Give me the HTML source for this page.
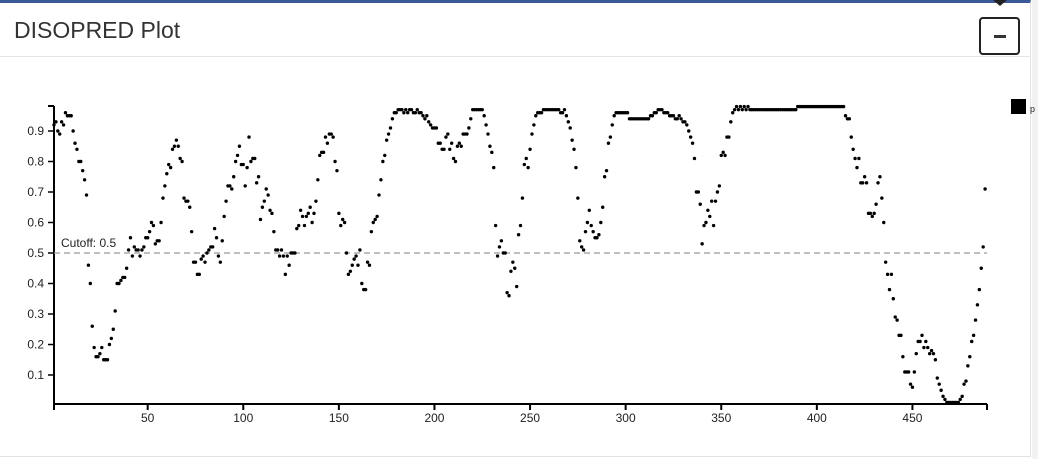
<!DOCTYPE html>
<html><head><meta charset="utf-8">
<style>
html,body{margin:0;padding:0;background:#fff;width:1038px;height:459px;overflow:hidden;font-family:"Liberation Sans",sans-serif;}
.card{position:absolute;left:0;top:0;width:1031px;height:457px;border-top:3px solid #3b5998;border-right:1px solid #e3e3e3;border-bottom:1px solid #e3e3e3;box-sizing:border-box;}
.hdr{position:absolute;left:0;top:0;width:1031px;height:54px;border-bottom:1px solid #e6e6e6;box-sizing:border-box;}
.title{position:absolute;left:14px;top:14px;font-size:23px;color:#333;}
.btn{position:absolute;left:979px;top:14px;width:41px;height:38px;border:2px solid #222;border-radius:4px;box-sizing:border-box;background:#fff;}
.btn span{position:absolute;left:13px;top:16px;width:12px;height:3px;background:#333;}
.tip{position:absolute;left:993px;top:0;width:0;height:0;border-left:7px solid transparent;border-right:7px solid transparent;border-top:6px solid #222;}
.strip{position:absolute;left:1032px;top:0;width:6px;height:459px;background:#f2f2f2;}
svg{position:absolute;left:0;top:0;}
</style></head><body>
<div class="card">
 <div class="hdr">
  <div class="title">DISOPRED Plot</div>
  <div class="btn"><span></span></div>
 </div>
</div>
<div class="tip"></div>
<div class="strip"></div>
<svg id="chart" width="1038" height="459"></svg>
<script>
const xTicks=[50,100,150,200,250,300,350,400,450];
const yTicks=[0.1,0.2,0.3,0.4,0.5,0.6,0.7,0.8,0.9];
const cutoff=0.5;
const disorder=[
.92,.93,.90,.89,.93,.92,.96,.95,.95,.95,
.90,.86,.84,.80,.80,.77,.74,.69,.46,.40,
.26,.19,.16,.16,.17,.19,.15,.15,.15,.20,
.22,.25,.31,.40,.40,.41,.42,.42,.45,.51,
.55,.49,.52,.51,.51,.49,.51,.52,.55,.55,
.57,.60,.59,.53,.54,.54,.60,.68,.72,.76,
.79,.78,.84,.85,.87,.85,.81,.80,.68,.67,
.67,.65,.57,.47,.47,.43,.43,.48,.49,.47,
.50,.51,.52,.52,.58,.55,.49,.47,.54,.62,
.67,.72,.72,.71,.75,.80,.82,.85,.79,.79,
.72,.78,.88,.80,.81,.81,.73,.75,.61,.65,
.67,.71,.69,.64,.63,.57,.51,.51,.49,.51,
.49,.43,.49,.46,.50,.50,.50,.58,.59,.64,
.62,.59,.62,.63,.65,.60,.63,.67,.74,.82,
.83,.83,.88,.86,.89,.89,.88,.80,.77,.63,
.59,.61,.60,.50,.43,.44,.46,.48,.49,.46,
.51,.40,.38,.38,.47,.46,.57,.60,.61,.62,
.69,.74,.80,.82,.87,.89,.91,.94,.96,.96,
.97,.97,.97,.96,.97,.96,.97,.97,.96,.96,
.97,.96,.96,.95,.94,.95,.93,.92,.91,.91,
.91,.86,.86,.84,.84,.88,.89,.84,.86,.81,
.80,.85,.86,.85,.89,.89,.89,.91,.94,.97,
.97,.97,.97,.97,.97,.95,.92,.89,.85,.83,
.78,.59,.49,.52,.54,.50,.50,.37,.36,.44,
.47,.45,.39,.56,.59,.68,.79,.81,.78,.84,
.89,.92,.95,.96,.96,.96,.97,.97,.97,.97,
.97,.97,.97,.97,.97,.96,.96,.97,.95,.93,
.91,.87,.84,.78,.68,.54,.52,.51,.57,.60,
.64,.59,.57,.55,.55,.56,.60,.65,.75,.77,
.86,.88,.92,.95,.96,.96,.96,.96,.96,.96,
.96,.94,.94,.94,.94,.94,.94,.94,.94,.94,
.94,.94,.95,.95,.96,.96,.97,.97,.97,.96,
.96,.96,.95,.95,.95,.94,.94,.95,.94,.93,
.93,.92,.90,.88,.86,.81,.70,.70,.66,.53,
.59,.60,.64,.62,.67,.59,.67,.70,.72,.82,
.83,.82,.88,.88,.93,.96,.97,.98,.97,.98,
.97,.98,.97,.98,.97,.97,.97,.97,.97,.97,
.97,.97,.97,.97,.97,.97,.97,.97,.97,.97,
.97,.97,.97,.97,.97,.97,.97,.97,.97,.98,
.98,.98,.98,.98,.98,.98,.98,.98,.98,.98,
.98,.98,.98,.98,.98,.98,.98,.98,.98,.98,
.98,.98,.98,.98,.95,.94,.94,.88,.84,.81,
.78,.81,.73,.73,.75,.73,.63,.63,.62,.63,
.66,.73,.75,.68,.60,.47,.43,.38,.43,.35,
.29,.28,.23,.23,.16,.11,.11,.11,.07,.06,
.11,.17,.21,.21,.23,.19,.21,.19,.17,.18,
.17,.15,.09,.07,.05,.03,.02,.01,.01,.01,
.01,.01,.01,.01,.02,.03,.07,.08,.13,.16,
.21,.23,.28,.33,.38,.45,.52,.71
];
const NS='http://www.w3.org/2000/svg';
const svg=document.getElementById('chart');
const X0=54,X1=987,D0=1,D1=489;
function xs(r){return X0+(r-D0)*(X1-X0)/(D1-D0);}
function ys(v){return 405.5-305*v;}
function mk(t,a){const e=document.createElementNS(NS,t);for(const k in a)e.setAttribute(k,a[k]);svg.appendChild(e);return e;}
let ax=mk('line',{x1:X0,y1:404,x2:X1,y2:404,stroke:'#000','stroke-width':2});


let ay=mk('line',{x1:X0,y1:106,x2:X0,y2:405,stroke:'#000','stroke-width':2});


mk('line',{x1:48,y1:106,x2:X0,y2:106,stroke:'#000','stroke-width':2});
mk('line',{x1:X0,y1:404,x2:X0,y2:410,stroke:'#000','stroke-width':2});
mk('line',{x1:X1,y1:404,x2:X1,y2:410,stroke:'#000','stroke-width':2});
xTicks.forEach(t=>{
 const x=xs(t);
 let l=mk('line',{x1:x,y1:404,x2:x,y2:410,stroke:'#000','stroke-width':2});
 
 
 let tx=mk('text',{x:x,y:422,'font-size':12,'text-anchor':'middle',fill:'#222','font-family':'Liberation Sans, sans-serif'});
 tx.textContent=t;
 
 
});
yTicks.forEach(t=>{
 const y=ys(t);
 let l=mk('line',{x1:48,y1:y,x2:X0,y2:y,stroke:'#000','stroke-width':1.5});
 
 
 let tx=mk('text',{x:44,y:y+4,'font-size':12,'text-anchor':'end',fill:'#222','font-family':'Liberation Sans, sans-serif'});
 tx.textContent=t.toFixed(1);
 
 
});
let cl=mk('line',{x1:X0,y1:ys(cutoff),x2:X1,y2:ys(cutoff),stroke:'#999','stroke-width':1.3,'stroke-dasharray':'6,4'});


let ct=mk('text',{x:61,y:ys(cutoff)-6,'font-size':12,fill:'#222','font-family':'Liberation Sans, sans-serif'});
ct.textContent='Cutoff: '+cutoff;


disorder.forEach((v,i)=>{
 let c=mk('circle',{cx:xs(i+1),cy:ys(v),r:1.7,fill:'#000'});
 
 
});
let lg=mk('rect',{x:1011,y:99,width:15,height:15,fill:'#000'});


let lt=mk('text',{x:1030,y:112,'font-size':9,fill:'#222','font-family':'Liberation Sans, sans-serif'});
lt.textContent='p';


</script>
</body></html>
